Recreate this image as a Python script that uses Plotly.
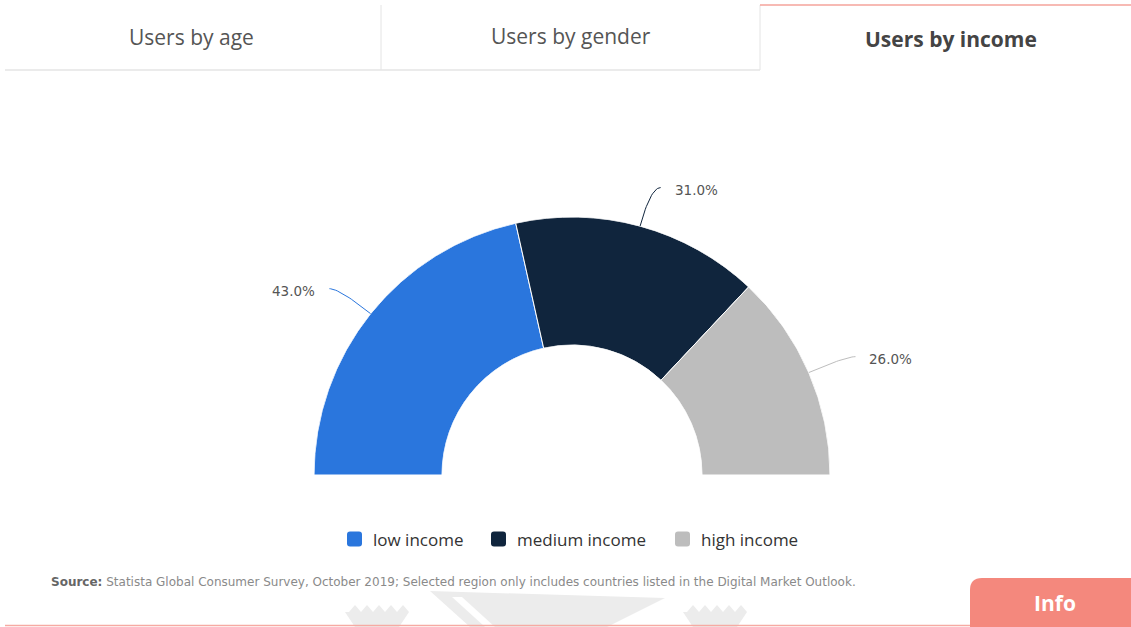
import math
import plotly.graph_objects as go

# Income split of users (share in percent)
categories = ["low income", "medium income", "high income"]
shares = [43.0, 31.0, 26.0]
colors = ["#2a76dd", "#10253d", "#bdbdbd"]
tabs = ["Users by age", "Users by gender", "Users by income"]
source_text = ("Statista Global Consumer Survey, October 2019; Selected region only "
               "includes countries listed in the Digital Market Outlook.")

W, H = 1131, 627
FONT = "Open Sans"

# geometry of the half donut (pixels)
CX, CY, R_OUT = 572, 475, 258
HOLE = 130 / 258

fig = go.Figure()

# half donut: each share spans share * 1.8 degrees of a 180-degree sector
start = 0.0
mids = []
for name, val, col in zip(categories, shares, colors):
    width = val * 1.8
    mid = start + width / 2
    mids.append(mid)
    fig.add_trace(go.Barpolar(
        r=[1], theta=[mid], width=[width], name=name,
        marker=dict(color=col, line=dict(color="white", width=1)),
        hoverinfo="name", showlegend=False,
    ))
    start += width

annotations = []
shapes = []

# connector lines and value labels, placed from each slice's mid angle
for val, col, mid in zip(shares, colors, mids):
    ang = math.radians(180 - mid)
    ex, ey = CX + R_OUT * math.cos(ang), CY - R_OUT * math.sin(ang)
    ax, ay = CX + (R_OUT + 40) * math.cos(ang), CY - (R_OUT + 40) * math.sin(ang)
    side = 1 if math.cos(ang) >= 0 else -1
    fx, fy = ax + 10 * side, ay
    xs, ys = [], []
    for i in range(21):
        t = i / 20
        xs.append((1 - t) ** 2 * ex + 2 * (1 - t) * t * ax + t ** 2 * fx)
        ys.append((1 - t) ** 2 * ey + 2 * (1 - t) * t * ay + t ** 2 * fy)
    fig.add_trace(go.Scatter(x=xs, y=ys, mode="lines", line=dict(color=col, width=1),
                             hoverinfo="skip", showlegend=False, xaxis="x", yaxis="y"))
    annotations.append(dict(
        x=fx + 12 * side, y=fy + 2, xref="x", yref="y", showarrow=False,
        text=f"{val:.1f}%", xanchor="left" if side > 0 else "right", yanchor="middle",
        font=dict(family="DejaVu Sans", size=13.5, color="#555555"),
    ))

# legend: rounded colour swatches with captions
legend_x = [347, 491, 675]
LEG_Y = 539
for name, col, lx in zip(categories, colors, legend_x):
    x0, x1, y0, y1, rr = lx, lx + 15, LEG_Y - 7.5, LEG_Y + 7.5, 3
    shapes.append(dict(
        type="path", xref="x", yref="y", fillcolor=col, line=dict(width=0),
        path=(f"M{x0+rr},{y0} H{x1-rr} Q{x1},{y0} {x1},{y0+rr} V{y1-rr} Q{x1},{y1} {x1-rr},{y1} "
              f"H{x0+rr} Q{x0},{y1} {x0},{y1-rr} V{y0+rr} Q{x0},{y0} {x0+rr},{y0} Z"),
    ))
    annotations.append(dict(
        x=lx + 24, y=LEG_Y, xref="x", yref="y", showarrow=False, xanchor="left", yanchor="middle",
        text=name, font=dict(family=FONT, size=17, color="#333333"),
    ))

# tab captions
tab_x = [191, 571, 951]
tab_y = [37, 36, 39]
for i, (label, tx, ty) in enumerate(zip(tabs, tab_x, tab_y)):
    active = i == len(tabs) - 1
    annotations.append(dict(
        x=tx, y=ty, xref="x", yref="y", showarrow=False,
        text=f"<b>{label}</b>" if active else label,
        font=dict(family=FONT, size=21, color="#444444" if active else "#555555"),
        xanchor="center", yanchor="middle",
    ))

# source line and info button caption
annotations.append(dict(
    x=49, y=582, xref="x", yref="y", showarrow=False, xanchor="left", yanchor="middle",
    text=f"<b><span style='color:#666666'>Source:</span></b> {source_text}",
    font=dict(family="DejaVu Sans", size=12, color="#8a8a8a"),
))
annotations.append(dict(
    x=1055, y=603, xref="x", yref="y", showarrow=False, xanchor="center", yanchor="middle",
    text="<b>Info</b>", font=dict(family=FONT, size=21, color="white"),
))

# faint watermark emblems along the bottom edge
mark = "#ececec"


def crown(x0):
    pts = [f"M{x0},{612}"]
    for k in range(5):
        bx = x0 + 4 + k * 12
        pts.append(f"L{bx},{612} L{bx + 6},{605} L{bx + 12},{612}")
    pts.append(f"L{x0 + 64},{612} L{x0 + 54},{627} L{x0 + 10},{627} Z")
    return " ".join(pts)


for cx0 in (345, 683):
    shapes.append(dict(type="path", xref="x", yref="y", layer="below", path=crown(cx0),
                       fillcolor=mark, line=dict(width=0)))
shapes.append(dict(type="path", xref="x", yref="y", layer="below",
                   path="M430,591 L665,598 L607,627 L470,627 Z", fillcolor=mark, line=dict(width=0)))
shapes.append(dict(type="path", xref="x", yref="y", layer="below",
                   path="M452,597 L462,597 L495,627 L485,627 Z", fillcolor="white", line=dict(width=0)))

line_grey = "#e4e4e4"
salmon = "#f4887d"
shapes += [
    dict(type="line", x0=381, x1=381, y0=5, y1=70, xref="x", yref="y", line=dict(color=line_grey, width=1)),
    dict(type="line", x0=760, x1=760, y0=5, y1=70, xref="x", yref="y", line=dict(color=line_grey, width=1)),
    dict(type="line", x0=5, x1=760, y0=70, y1=70, xref="x", yref="y", line=dict(color=line_grey, width=1.5)),
    dict(type="line", x0=760, x1=W, y0=5, y1=5, xref="x", yref="y", line=dict(color="#f4a39b", width=1.5)),
    dict(type="line", x0=5, x1=W, y0=625.5, y1=625.5, xref="x", yref="y", line=dict(color="#f6aaa3", width=1.5)),
    dict(type="path", xref="x", yref="y", path="M970,627 V590 Q970,578 982,578 H1131 V627 Z",
         fillcolor=salmon, line=dict(width=0)),
]

fig.update_layout(
    width=W, height=H,
    margin=dict(l=0, r=0, t=0, b=0),
    paper_bgcolor="white", plot_bgcolor="rgba(0,0,0,0)",
    polar=dict(
        domain=dict(x=[(CX - R_OUT) / W, (CX + R_OUT) / W],
                    y=[1 - CY / H, 1 - (CY - R_OUT) / H]),
        sector=[0, 180], hole=HOLE, bgcolor="rgba(0,0,0,0)",
        radialaxis=dict(visible=False, range=[0, 1]),
        angularaxis=dict(visible=False, direction="clockwise", rotation=180),
    ),
    xaxis=dict(range=[0, W], visible=False, fixedrange=True, domain=[0, 1]),
    yaxis=dict(range=[H, 0], visible=False, fixedrange=True, domain=[0, 1]),
    annotations=annotations, shapes=shapes,
    showlegend=False,
)

fig.write_html("out.html")
